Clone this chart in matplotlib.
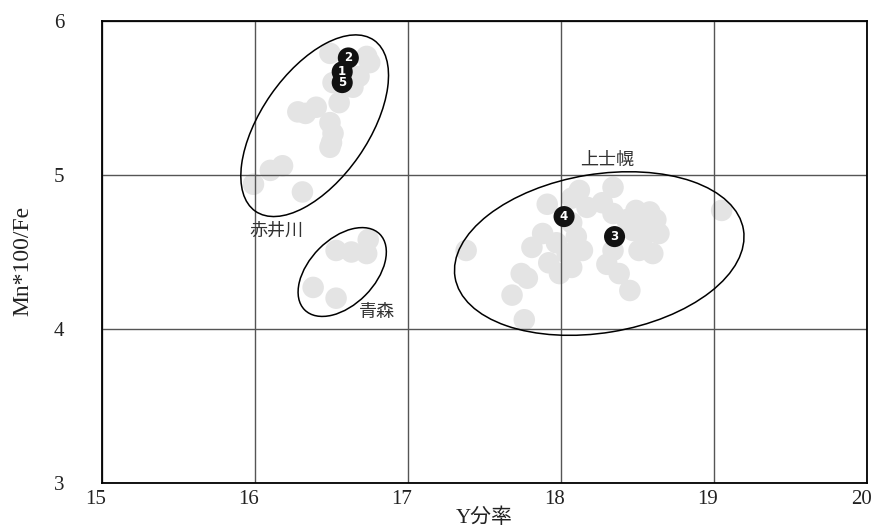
import matplotlib
matplotlib.use("Agg")
import matplotlib.pyplot as plt
from matplotlib.patches import Ellipse
import matplotlib.transforms as mtransforms

# ---- data ----
gray_x = [16.49, 16.73, 16.75, 16.68, 16.51, 16.64, 16.55, 16.40, 16.28, 16.33, 16.49, 16.51,
          16.50, 16.49, 16.18, 16.10, 15.99, 16.31,
          16.53, 16.63, 16.73, 16.74, 16.38, 16.53,
          18.34, 18.12, 18.07, 17.91, 18.27, 18.34, 18.17, 18.49, 18.58, 18.51, 18.62, 18.64,
          18.56, 18.47, 18.43, 18.07, 18.10, 17.88, 17.81, 17.97, 18.14, 18.04, 17.99, 17.92,
          18.07, 18.30, 18.38, 18.45, 18.60, 18.51, 17.74, 17.78, 17.68, 17.76, 17.38, 19.05,
          18.34]
gray_y = [5.79, 5.77, 5.73, 5.64, 5.60, 5.57, 5.47, 5.44, 5.41, 5.40, 5.34, 5.27,
          5.21, 5.18, 5.06, 5.03, 4.94, 4.89,
          4.51, 4.50, 4.49, 4.58, 4.27, 4.20,
          4.92, 4.90, 4.85, 4.81, 4.82, 4.75, 4.79, 4.77, 4.76, 4.71, 4.71, 4.62,
          4.62, 4.64, 4.71, 4.69, 4.60, 4.62, 4.53, 4.56, 4.51, 4.49, 4.36, 4.43,
          4.40, 4.42, 4.36, 4.25, 4.49, 4.51, 4.36, 4.33, 4.22, 4.06, 4.51, 4.77,
          4.51]

num_labels = ["2", "1", "5", "4", "3"]
num_x = [16.61, 16.57, 16.57, 18.02, 18.35]
num_y = [5.76, 5.67, 5.60, 4.73, 4.60]

group_names = ["赤井川", "青森", "上士幌"]
ell_cx = [16.39, 16.57, 18.25]
ell_cy = [5.32, 4.37, 4.49]
ell_w = [1.354, 0.695, 1.91]
ell_h = [0.70, 0.427, 1.03]
ell_angle = [55, 45, 9.3]
name_x = [16.14, 16.80, 18.30]
name_y = [4.64, 4.11, 5.10]

x_ticks = [15, 16, 17, 18, 19, 20]
y_ticks = [3, 4, 5, 6]

# ---- figure ----
fig = plt.figure(figsize=(8.75, 5.29), dpi=100)
ax = fig.add_axes([102/875, (529-483)/529, (867-102)/875, (483-21)/529])

serif = ['Liberation Serif', 'DejaVu Serif']
cjk = ['Noto Sans CJK JP', 'DejaVu Sans']

ax.scatter(gray_x, gray_y, s=240, color='#e4e4e4', edgecolors='none', zorder=1)

ax.set_xlim(15, 20)
ax.set_ylim(3, 6)
ax.set_xticks(x_ticks)
ax.set_yticks(y_ticks)
ax.grid(True, color='#555555', linewidth=1.0, zorder=2)
ax.set_axisbelow(False)
for sp in ax.spines.values():
    sp.set_linewidth(1.3)
    sp.set_color('black')
    sp.set_zorder(5)

ax.tick_params(axis='both', length=0)
ax.tick_params(axis='y', pad=27)
ax.tick_params(axis='x', pad=5)
shift = mtransforms.ScaledTranslation(-6/100, 0, fig.dpi_scale_trans)
for lab in ax.get_xticklabels():
    lab.set_transform(lab.get_transform() + shift)
for lab in ax.get_xticklabels() + ax.get_yticklabels():
    lab.set_fontfamily(serif)
    lab.set_fontsize(15)
    lab.set_color('#222222')

for cx, cy, w, h, a in zip(ell_cx, ell_cy, ell_w, ell_h, ell_angle):
    ax.add_patch(Ellipse((cx, cy), w, h, angle=a, fill=False, edgecolor='black',
                         linewidth=1.1, zorder=4))

ax.scatter(num_x, num_y, s=230, color='#111111', edgecolors='none', zorder=6)
for t, x, y in zip(num_labels, num_x, num_y):
    ax.text(x, y, t, color='white', fontsize=8.5, fontweight='bold', ha='center',
            va='center', zorder=7, family=['DejaVu Sans'])

for t, x, y in zip(group_names, name_x, name_y):
    ax.text(x, y, t, fontsize=13, color='#333333', ha='center', va='center',
            family=cjk, zorder=7)

ax.set_xlabel('Y分率', fontsize=15, family=['Liberation Serif', 'Noto Sans CJK JP'],
              color='#222222', labelpad=0)
ax.set_ylabel('Mn*100/Fe', fontsize=17, family=serif, color='#222222')
ax.yaxis.set_label_coords(-0.09, 0.48)

fig.savefig('out.png', dpi=100)
